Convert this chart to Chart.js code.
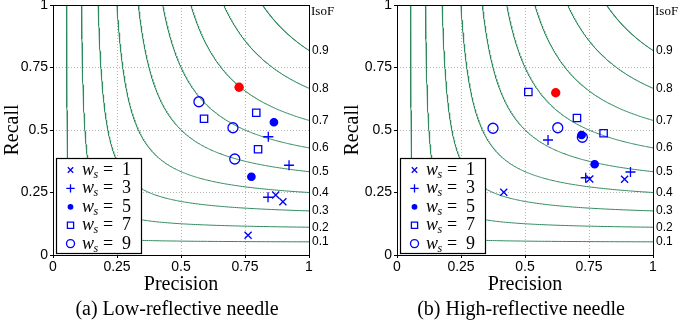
<!DOCTYPE html>
<html>
<head>
<meta charset="utf-8">
<script src="https://cdn.jsdelivr.net/npm/chart.js@4/dist/chart.umd.min.js"></script>
<style>
  html, body { margin: 0; padding: 0; background: #fff; }
  #wrap { position: relative; width: 681px; height: 324px; }
  .panel { position: absolute; top: 0; height: 324px; }
</style>
</head>
<body>
<div id="wrap">
  <div class="panel" style="left:0;width:340px"><canvas id="low" width="340" height="324" style="width:340px;height:324px"></canvas></div>
  <div class="panel" style="left:340px;width:341px"><canvas id="high" width="341" height="324" style="width:341px;height:324px"></canvas></div>
</div>
<script>
// window sizes shown in the legend
const wsValues = [1, 3, 5, 7, 9];

// iso-F levels drawn as reference curves
const isoLevels = [0.1, 0.2, 0.3, 0.4, 0.5, 0.6, 0.7, 0.8, 0.9];
const isoLabels = ['0.1', '0.2', '0.3', '0.4', '0.5', '0.6', '0.7', '0.8', '0.9'];
const axisTicks = [0, 0.25, 0.5, 0.75, 1];
const axisLabels = ['0', '0.25', '0.5', '0.75', '1'];

// (a) low-reflective needle: precision / recall per window size
const lowW1P = [0.870, 0.898, 0.762];
const lowW1R = [0.240, 0.213, 0.079];
const lowW3P = [0.841, 0.922, 0.840];
const lowW3R = [0.473, 0.359, 0.231];
const lowW5P = [0.863, 0.775];
const lowW5R = [0.531, 0.313];
const lowW7P = [0.590, 0.794, 0.801];
const lowW7R = [0.545, 0.569, 0.423];
const lowW9P = [0.570, 0.703, 0.710];
const lowW9R = [0.613, 0.509, 0.384];
const lowBestP = [0.727];
const lowBestR = [0.671];

// (b) high-reflective needle
const highW1P = [0.417, 0.753, 0.889];
const highW1R = [0.251, 0.304, 0.303];
const highW3P = [0.590, 0.737, 0.912];
const highW3R = [0.460, 0.309, 0.332];
const highW5P = [0.721, 0.772];
const highW5R = [0.480, 0.363];
const highW7P = [0.513, 0.703, 0.807];
const highW7R = [0.652, 0.548, 0.487];
const highW9P = [0.375, 0.628, 0.724];
const highW9R = [0.507, 0.509, 0.471];
const highBestP = [0.620];
const highBestR = [0.649];

const BLUE = '#0000ff';
const RED = '#ff0000';
const GREEN = '#2f8a5e';
const SERIF = '"Liberation Serif", "DejaVu Serif", serif';
const SANS = '"Liberation Sans", Arial, sans-serif';

// marker look per window size (plot / legend radius)
const markers = [
  { style: 'crossRot', r: 5, lr: 3.8, fill: false },
  { style: 'cross', r: 5, lr: 4.2, fill: false },
  { style: 'circle', r: 3.7, lr: 2.9, fill: true },
  { style: 'rect', r: 5.2, lr: 4.4, fill: false },
  { style: 'circle', r: 5, lr: 4, fill: false },
];

function zip(px, py) {
  return px.map((x, i) => ({ x: x, y: py[i] }));
}

function isoCurve(f) {
  // hyperbola 1/P + 1/R = 2/F, from R = 1 down to P = 1
  const h = f / 2;
  const tMax = Math.log((1 - h) / h);
  const pts = [];
  for (let i = 0; i <= 240; i++) {
    const t = -tMax + 2 * tMax * i / 240;
    pts.push({ x: h + h * Math.exp(t), y: h + h * Math.exp(-t) });
  }
  return pts;
}

function drawMarker(ctx, m, x, y, r) {
  ctx.save();
  ctx.strokeStyle = BLUE;
  ctx.fillStyle = BLUE;
  ctx.lineWidth = 1.3;
  ctx.beginPath();
  if (m.style === 'circle') {
    ctx.arc(x, y, r, 0, Math.PI * 2);
    if (m.fill) ctx.fill(); else ctx.stroke();
  } else if (m.style === 'rect') {
    const s = r * Math.SQRT1_2;
    ctx.rect(x - s, y - s, 2 * s, 2 * s);
    ctx.stroke();
  } else if (m.style === 'cross') {
    ctx.moveTo(x - r, y); ctx.lineTo(x + r, y);
    ctx.moveTo(x, y - r); ctx.lineTo(x, y + r);
    ctx.stroke();
  } else {
    const s = r * Math.SQRT1_2;
    ctx.moveTo(x - s, y - s); ctx.lineTo(x + s, y + s);
    ctx.moveTo(x - s, y + s); ctx.lineTo(x + s, y - s);
    ctx.stroke();
  }
  ctx.restore();
}

const decorPlugin = {
  id: 'decor',
  afterDraw(chart) {
    const ctx = chart.ctx;
    const ca = chart.chartArea;
    ctx.save();
    // axes box
    ctx.strokeStyle = '#000';
    ctx.lineWidth = 1;
    ctx.strokeRect(Math.round(ca.left) + 0.5, Math.round(ca.top) + 0.5,
      Math.round(ca.right - ca.left), Math.round(ca.bottom - ca.top));

    // IsoF header
    ctx.fillStyle = '#000';
    ctx.font = '13px ' + SERIF;
    ctx.textBaseline = 'middle';
    ctx.textAlign = 'left';
    ctx.fillText('IsoF', ca.right + 2, 12);

    // legend box
    const bx = Math.round(ca.left + 2.5) + 0.5;
    const bw = 85;
    const bTop = 158.5;
    const bBottom = Math.round(ca.bottom - 2.5) + 0.5;
    ctx.fillStyle = '#fff';
    ctx.fillRect(bx, bTop, bw, bBottom - bTop);
    ctx.strokeStyle = '#000';
    ctx.lineWidth = 1.2;
    ctx.strokeRect(bx, bTop, bw, bBottom - bTop);
    wsValues.forEach((w, i) => {
      const y = 170 + i * 18.4;
      drawMarker(ctx, markers[i], bx + 14, y, markers[i].lr);
      const tx = bx + 25.5;
      ctx.fillStyle = '#000';
      ctx.textBaseline = 'alphabetic';
      ctx.font = 'italic 18px ' + SERIF;
      ctx.fillText('w', tx, y + 5);
      ctx.font = 'italic 12px ' + SERIF;
      ctx.fillText('s', tx + 11.5, y + 8);
      ctx.font = '18px ' + SERIF;
      ctx.fillText('=', tx + 21, y + 5);
      ctx.fillText(String(w), tx + 40, y + 5);
    });

    // caption
    ctx.fillStyle = '#000';
    ctx.font = '20px ' + SERIF;
    ctx.textAlign = 'center';
    ctx.textBaseline = 'alphabetic';
    ctx.fillText(chart.options.caption, (ca.left + ca.right) / 2 - 4, 315);
    ctx.restore();
  }
};

function makeChart(id, series, best, caption, yWidth, fWidth) {
  const datasets = [];
  series.forEach((s, i) => {
    const m = markers[i];
    datasets.push({
      label: 'w_s = ' + wsValues[i],
      data: zip(s[0], s[1]),
      pointStyle: m.style,
      pointRadius: m.r,
      pointHoverRadius: m.r,
      pointBorderWidth: 1.3,
      borderColor: BLUE,
      backgroundColor: m.fill ? BLUE : 'rgba(0,0,0,0)',
      order: 1,
    });
  });
  datasets.push({
    label: 'best',
    data: zip(best[0], best[1]),
    pointStyle: 'circle',
    pointRadius: 4.7,
    pointBorderWidth: 0,
    borderColor: RED,
    backgroundColor: RED,
    order: 0,
  });
  isoLevels.forEach(f => {
    datasets.push({
      label: 'F=' + f,
      data: isoCurve(f),
      showLine: true,
      pointRadius: 0,
      borderColor: GREEN,
      borderWidth: 1,
      fill: false,
      order: 5,
    });
  });

  const gridColor = c => (c.tick && c.tick.value > 0 && c.tick.value < 1) ? '#b4b4b4' : 'rgba(0,0,0,0)';
  const noPad = s => { s.paddingTop = 0; s.paddingBottom = 0; s.paddingLeft = 0; s.paddingRight = 0; };

  return new Chart(document.getElementById(id), {
    type: 'scatter',
    data: { datasets: datasets },
    options: {
      caption: caption,
      responsive: false,
      animation: false,
      events: [],
      layout: { autoPadding: false, padding: { top: 5, left: 0, right: 0, bottom: 0 } },
      plugins: { legend: { display: false }, tooltip: { enabled: false } },
      scales: {
        x: {
          type: 'linear', min: 0, max: 1,
          afterBuildTicks: s => { s.ticks = axisTicks.map(v => ({ value: v })); },
          afterFit: s => { s.height = 69; noPad(s); },
          border: { display: false, dash: [1, 2] },
          grid: { color: gridColor, tickColor: '#000', tickLength: 3, tickBorderDash: [], lineWidth: 1 },
          ticks: { color: '#000', font: { family: SANS, size: 14 }, padding: 1, maxRotation: 0,
            autoSkip: false, callback: (v, i) => axisLabels[i] },
          title: { display: true, text: 'Precision', color: '#000',
            font: { family: SERIF, size: 20 }, padding: { top: 0, bottom: 27 } },
        },
        y: {
          type: 'linear', min: 0, max: 1, position: 'left',
          afterBuildTicks: s => { s.ticks = axisTicks.map(v => ({ value: v })); },
          afterFit: s => { s.width = yWidth; noPad(s); },
          border: { display: false, dash: [1, 2] },
          grid: { color: gridColor, tickColor: '#000', tickLength: 3, tickBorderDash: [], lineWidth: 1 },
          ticks: { color: '#000', font: { family: SANS, size: 14 }, padding: 2,
            autoSkip: false, callback: (v, i) => axisLabels[i] },
          title: { display: true, text: 'Recall', color: '#000',
            font: { family: SERIF, size: 20 }, padding: { top: 1, bottom: 0 } },
        },
        f: {
          type: 'linear', min: 0, max: 1, position: 'right',
          afterBuildTicks: s => { s.ticks = isoLevels.map(v => ({ value: v / (2 - v) })); },
          afterFit: s => { s.width = fWidth; noPad(s); },
          border: { display: false },
          grid: { display: false, drawTicks: false },
          ticks: { color: '#000', font: { family: SANS, size: 12 }, padding: 3, autoSkip: false,
            callback: (v, i) => isoLabels[i] },
        },
      },
    },
    plugins: [decorPlugin],
  });
}

makeChart('low',
  [[lowW1P, lowW1R], [lowW3P, lowW3R], [lowW5P, lowW5R], [lowW7P, lowW7R], [lowW9P, lowW9R]],
  [lowBestP, lowBestR], '(a) Low-reflective needle', 53, 31);

makeChart('high',
  [[highW1P, highW1R], [highW3P, highW3R], [highW5P, highW5R], [highW7P, highW7R], [highW9P, highW9R]],
  [highBestP, highBestR], '(b) High-reflective needle', 57, 28);
</script>
</body>
</html>
